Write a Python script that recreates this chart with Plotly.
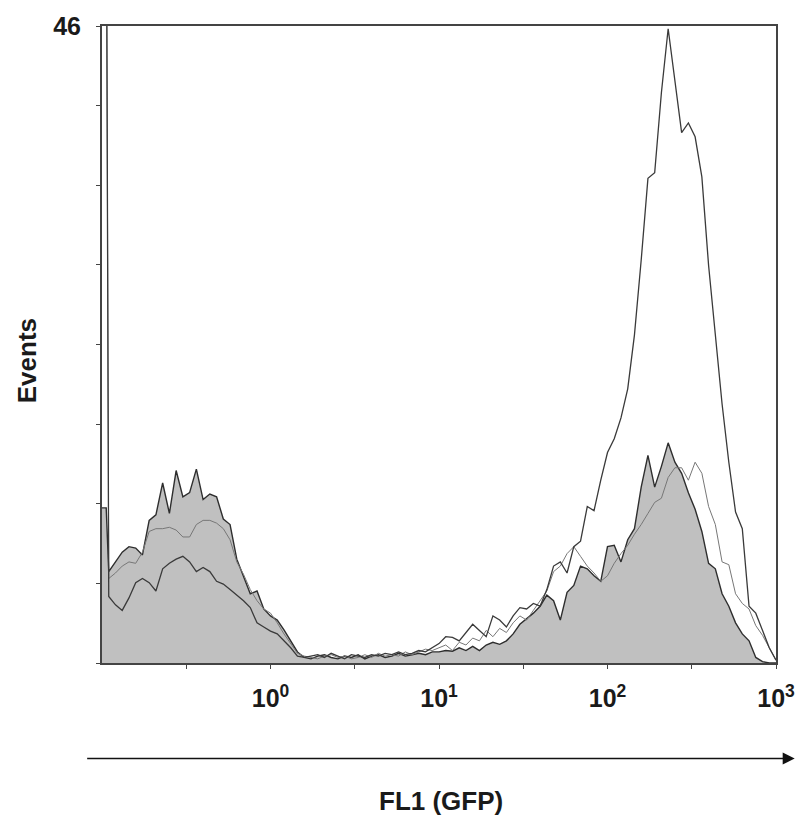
import plotly.graph_objects as go

# FL1 channel positions (log10 decades), -1 .. 3 (first two channels hold the off-scale spike)
fl1_decade = [-1.0, -0.975] + [round(-0.96 + 0.04 * i, 2) for i in range(100)]

# Filled histogram (gray)
events_filled = [
    11.2, 11.2, 6.6, 7.3, 8.0, 8.4, 8.3, 7.8, 10.3, 10.7, 13.0,
    10.8, 13.9, 12.0, 12.3, 14.0, 11.8, 12.2, 12.0, 10.4, 10.0,
    7.5, 6.3, 5.0, 5.2, 3.9, 3.4, 3.1, 2.4, 1.6, 0.8,
    0.4,
    0.3, 0.5, 0.6, 0.4, 0.3, 0.5, 0.4, 0.6, 0.3, 0.5,
    0.6, 0.4, 0.5, 0.7, 0.5, 0.6, 0.7, 0.6, 0.8,
    0.8, 0.9, 0.85, 1.1, 0.9, 1.2, 0.9, 1.3, 1.5, 1.35,
    1.6, 2.1, 2.8, 3.2, 3.6, 4.1, 4.9, 4.5, 3.1, 5.1,
    5.6, 7.0, 6.8, 6.3, 5.9, 8.4, 8.5, 7.3, 8.9, 9.7,
    12.7, 15.0, 12.7, 14.2, 15.9, 14.5, 13.7, 12.3, 11.1, 9.5,
    7.2, 6.8, 5.0, 4.1, 2.9, 2.1, 1.6, 0.4, 0.1, 0.0,
    0.0,
]

# Tall open histogram
events_high = [
    60, 60, 4.8, 4.2, 3.8, 4.7, 5.8, 6.1, 5.8, 5.2, 6.8,
    7.2, 7.5, 7.7, 7.3, 6.6, 6.9, 6.6, 5.9, 5.7, 5.3,
    4.9, 4.5, 4.0, 2.9, 2.6, 2.3, 2.1, 1.6, 1.1, 0.5,
    0.4,
    0.5, 0.6, 0.4, 0.7, 0.5, 0.3, 0.6, 0.5, 0.4, 0.6,
    0.5, 0.7, 0.6, 0.8, 0.6, 0.7, 0.9, 0.8, 1.1,
    1.4, 1.9, 1.85, 1.6, 2.2, 2.8, 2.35, 1.9, 3.4, 3.1,
    2.6, 3.4, 4.0, 3.9, 4.3, 4.1, 5.3, 7.0, 7.3, 6.5,
    8.4, 8.8, 11.3, 11.0, 13.2, 15.2, 16.2, 17.7, 19.8, 23.7,
    29.1, 35.0, 35.4, 41.2, 45.8, 42.2, 38.3, 39.0, 38.0, 35.1,
    28.7, 23.7, 18.7, 14.5, 10.9, 9.7, 4.1, 3.6, 2.35, 1.1,
    0.2,
]

# Thin light open histogram
events_mid = [
    60, 60, 6.1, 6.5, 7.0, 7.3, 7.2, 8.0, 9.5, 9.7, 9.7,
    9.8, 9.6, 9.1, 9.1, 10.0, 10.3, 10.3, 10.1, 9.7, 8.9,
    7.3, 6.4, 5.3, 4.5, 3.9, 3.6, 2.9, 2.1, 1.4, 0.7,
    0.5,
    0.4, 0.3, 0.5, 0.6, 0.4, 0.5, 0.3, 0.4, 0.6, 0.4,
    0.7, 0.5, 0.6, 0.5, 0.8, 0.6, 0.8, 1.0, 0.9,
    1.1, 1.3, 0.9, 1.5, 1.3, 1.8, 1.6, 2.35, 1.9, 2.5,
    2.2, 2.9, 3.4, 3.1, 3.8, 4.5, 5.2, 6.6, 7.0, 7.9,
    8.4, 7.7, 7.0, 6.5, 5.9, 6.3, 7.2, 7.9, 8.5, 9.3,
    10.0, 10.8, 11.6, 11.9, 13.4, 14.1, 14.1, 13.2, 14.5, 13.7,
    11.3, 10.0, 7.3, 7.1, 5.0, 4.3, 3.9, 2.7, 2.0, 1.1,
    0.2,
]

x_tick_exps = [-0.5, 0, 0.5, 1, 1.5, 2, 2.5, 3]
x_tick_text = ["", "10<sup>0</sup>", "", "10<sup>1</sup>", "", "10<sup>2</sup>", "", "10<sup>3</sup>"]
y_max = 46
y_tick_vals = [y_max * k / 8 for k in range(9)]
y_tick_text = [""] * 8 + ["46"]

x_vals = [10 ** e for e in fl1_decade]

fig = go.Figure()
fig.add_trace(go.Scatter(
    x=x_vals, y=events_filled, mode="lines", fill="tozeroy",
    fillcolor="#c0c0c0", line=dict(color="#2e2e2e", width=1.4),
    showlegend=False, hoverinfo="skip"))
fig.add_trace(go.Scatter(
    x=x_vals, y=events_mid, mode="lines",
    line=dict(color="#777777", width=1.0),
    showlegend=False, hoverinfo="skip"))
fig.add_trace(go.Scatter(
    x=x_vals, y=events_high, mode="lines",
    line=dict(color="#3a3a3a", width=1.3),
    showlegend=False, hoverinfo="skip"))

font_family = "Liberation Sans, Arial, sans-serif"

fig.update_layout(
    width=807, height=827,
    margin=dict(l=102, r=20, t=17, b=164),
    paper_bgcolor="white", plot_bgcolor="white",
    font=dict(family=font_family, color="#1a1a1a"),
    xaxis=dict(
        type="log", range=[-1, 3],
        tickvals=[10 ** e for e in x_tick_exps], ticktext=x_tick_text,
        ticks="outside", ticklen=4, tickwidth=1, tickcolor="#444",
        showline=True, linecolor="#444", linewidth=2, mirror=True,
        showgrid=False, zeroline=False,
        tickfont=dict(size=25, weight="bold", family=font_family),
        ticklabelstandoff=8,
    ),
    yaxis=dict(
        range=[0, y_max],
        tickvals=y_tick_vals, ticktext=y_tick_text,
        ticks="outside", ticklen=4, tickwidth=1, tickcolor="#444",
        showline=True, linecolor="#444", linewidth=2, mirror=True,
        showgrid=False, zeroline=False,
        tickfont=dict(size=25, weight="bold", family=font_family),
        ticklabelstandoff=10,
    ),
    annotations=[
        dict(text="Events", xref="paper", yref="paper", x=-0.111, y=0.474,
             textangle=-90, showarrow=False, xanchor="center", yanchor="middle",
             font=dict(size=26, weight="bold", family=font_family)),
        dict(text="FL1 (GFP)", xref="paper", yref="paper", x=0.5036, y=-0.2167,
             showarrow=False, xanchor="center", yanchor="middle",
             font=dict(size=26, weight="bold", family=font_family)),
        dict(text="", xref="paper", yref="paper", x=1.0277, y=-0.150,
             axref="pixel", ayref="pixel", ax=-709, ay=0,
             showarrow=True, arrowhead=2, arrowsize=1.6, arrowwidth=1.5,
             arrowcolor="#111"),
    ],
)

fig.write_html("out.html")
